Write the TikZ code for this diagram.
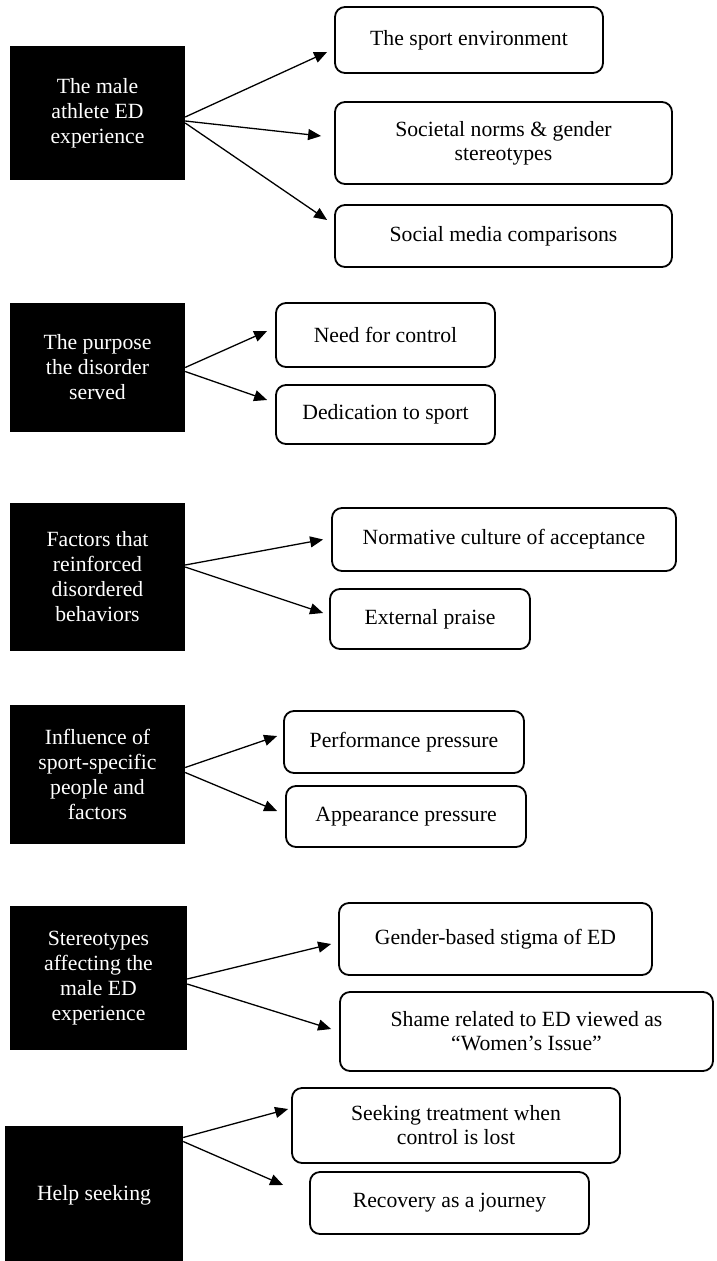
\documentclass[tikz,border=0pt]{standalone}
\usepackage{fontspec}
\setmainfont{Liberation Serif}
\usetikzlibrary{arrows.meta,calc}
\begin{document}
\begin{tikzpicture}[x=1pt,y=-1pt,
  topic/.style={fill=black,text=white,draw=none,align=center,inner sep=0pt,font=\fontsize{21.7}{25}\selectfont},
  sub/.style={draw=black,line width=1.8pt,rounded corners=10pt,fill=white,align=center,inner sep=0pt,font=\fontsize{21.7}{24}\selectfont},
  link/.style={line width=1.3pt,-{Triangle[length=13pt,width=11pt]}}]
\useasboundingbox[fill=white] (0,0) rectangle (716,1261);

% Section 1
\node[topic,minimum width=175pt,minimum height=134pt] (A1) at (97.5,113) {The male\\athlete ED\\experience};
\node[sub,minimum width=268pt,minimum height=66pt] (B1) at (469,40) {The sport environment};
\node[sub,minimum width=337pt,minimum height=82pt] (B2) at (503.5,143) {Societal norms \& gender\\stereotypes};
\node[sub,minimum width=337pt,minimum height=62pt] (B3) at (503.5,236) {Social media comparisons};
\draw[link] ($(A1.east)+(0,4)$) -- ($(B1.west)+(-7,12)$);
\draw[link] ($(A1.east)+(0,8)$) -- ($(B2.west)+(-13,-7)$);
\draw[link] ($(A1.east)+(0,10)$) -- ($(B3.west)+(-7,-16)$);

% Section 2
\node[topic,minimum width=175pt,minimum height=129pt] (A2) at (97.5,367.5) {The purpose\\the disorder\\served};
\node[sub,minimum width=219pt,minimum height=64pt] (C1) at (385.5,335) {Need for control};
\node[sub,minimum width=219pt,minimum height=59pt] (C2) at (385.5,414.5) {Dedication to sport};
\draw[link] ($(A2.east)+(0,0)$) -- ($(C1.west)+(-8,-4)$);
\draw[link] ($(A2.east)+(0,4)$) -- ($(C2.west)+(-8,-14.5)$);

% Section 3
\node[topic,minimum width=175pt,minimum height=148pt] (A3) at (97.5,577) {Factors that\\reinforced\\disordered\\behaviors};
\node[sub,minimum width=344pt,minimum height=63pt] (D1) at (504,539.5) {Normative culture of acceptance};
\node[sub,minimum width=200pt,minimum height=60pt] (D2) at (430,619) {External praise};
\draw[link] ($(A3.east)+(0,-12)$) -- ($(D1.west)+(-8,0)$);
\draw[link] ($(A3.east)+(0,-10)$) -- ($(D2.west)+(-6,-6)$);

% Section 4
\node[topic,minimum width=175pt,minimum height=139pt] (A4) at (97.5,774.5) {Influence of\\sport-specific\\people and\\factors};
\node[sub,minimum width=240pt,minimum height=62pt] (E1) at (404,742) {Performance pressure};
\node[sub,minimum width=240pt,minimum height=61pt] (E2) at (406,816.5) {Appearance pressure};
\draw[link] ($(A4.east)+(0,-7)$) -- ($(E1.west)+(-6,-6)$);
\draw[link] ($(A4.east)+(0,-2)$) -- ($(E2.west)+(-8,-5.5)$);

% Section 5
\node[topic,minimum width=177pt,minimum height=144pt] (A5) at (98.5,978) {Stereotypes\\affecting the\\male ED\\experience};
\node[sub,minimum width=313pt,minimum height=72pt] (F1) at (495.5,939) {Gender-based stigma of ED};
\node[sub,minimum width=373pt,minimum height=79pt] (F2) at (526.5,1031.5) {Shame related to ED viewed as\\“Women’s Issue”};
\draw[link] ($(A5.east)+(0,1)$) -- ($(F1.west)+(-7,5)$);
\draw[link] ($(A5.east)+(0,6)$) -- ($(F2.west)+(-8,-2.5)$);

% Section 6
\node[topic,minimum width=178pt,minimum height=139pt] (A6) at (94,1195.5) {Help seeking};
\node[sub,minimum width=328pt,minimum height=75pt] (G1) at (456,1125.5) {Seeking treatment when\\control is lost};
\node[sub,minimum width=279pt,minimum height=62pt] (G2) at (449.5,1203) {Recovery as a journey};
\draw[link] ($(A6.east)+(0,-58)$) -- ($(G1.west)+(-3,-16.5)$);
\draw[link] ($(A6.east)+(0,-54)$) -- ($(G2.west)+(-26,-18)$);
\end{tikzpicture}
\end{document}
